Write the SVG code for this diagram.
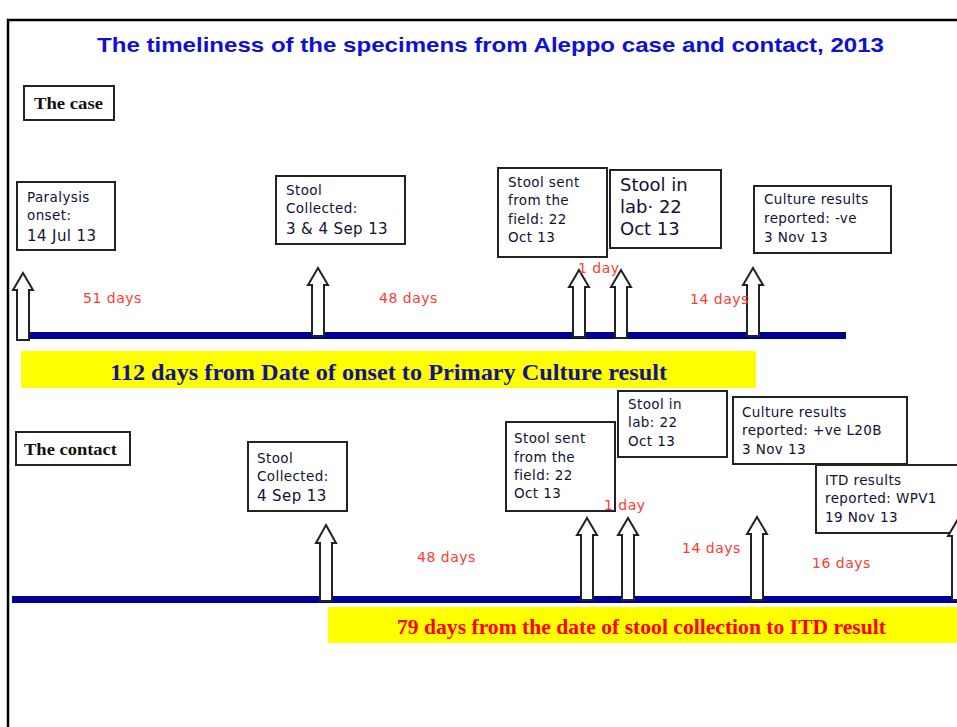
<svg xmlns="http://www.w3.org/2000/svg" width="957" height="727" viewBox="0 0 957 727">
<style>
.frame{fill:none;stroke:#000;stroke-width:2.5}
.box{fill:#fff;stroke:#222;stroke-width:2}
.bt{font-family:"DejaVu Sans","Liberation Sans",sans-serif;font-size:13.5px;letter-spacing:0.4px;fill:#111133}
.bt15{font-family:"DejaVu Sans","Liberation Sans",sans-serif;font-size:15px;letter-spacing:0.4px;fill:#111133}
.bt18{font-family:"DejaVu Sans","Liberation Sans",sans-serif;font-size:18px;fill:#111133}
.hd{font-family:"Liberation Serif",serif;font-weight:bold;font-size:17px;fill:#111}
.days{font-family:"DejaVu Sans","Liberation Sans",sans-serif;font-size:14px;letter-spacing:0.5px;fill:#ff3b2f}
.arrow{fill:#fff;stroke:#222;stroke-width:2;stroke-linejoin:miter}
.bar{fill:#000099}
.band{fill:#ffff00}
.title{font-family:"Liberation Sans",Arial,sans-serif;font-weight:bold;font-size:21px;fill:#1010d0}
.b1{font-family:"Liberation Serif",serif;font-weight:bold;font-size:23px;fill:#14148a}
.b2{font-family:"Liberation Serif",serif;font-weight:bold;font-size:20px;fill:#ff0000}
</style>
<rect width="957" height="727" fill="#fff"/>
<path class="frame" d="M8,727 V20 H957"/>
<text class="title" x="97" y="52" textLength="787" lengthAdjust="spacingAndGlyphs">The timeliness of the specimens from Aleppo  case and contact, 2013</text>

<g id="bars">
<rect class="bar" x="18" y="332" width="828" height="7"/>
<rect class="bar" x="12" y="596" width="945" height="7"/>
</g>

<g id="band-case">
<rect class="band" x="21" y="351" width="735" height="37"/>
<text class="b1" x="110" y="380" textLength="557" lengthAdjust="spacingAndGlyphs">112 days  from Date of onset to Primary  Culture result</text>
</g>
<g id="band-contact">
<rect class="band" x="328" y="607" width="629" height="36"/>
<text class="b2" x="397" y="634" textLength="489" lengthAdjust="spacingAndGlyphs">79 days from the date of stool collection to ITD result</text>
</g>

<g id="label-case">
<rect class="box" x="24" y="86" width="90" height="34"/>
<text class="hd" x="34" y="109" textLength="69" lengthAdjust="spacingAndGlyphs">The case</text>
</g>
<g id="label-contact">
<rect class="box" x="16" y="432" width="114" height="33"/>
<text class="hd" x="24" y="455" textLength="93" lengthAdjust="spacingAndGlyphs">The contact</text>
</g>

<g id="case-onset">
<rect class="box" x="17" y="182" width="98" height="68"/>
<text class="bt" x="27" y="202">Paralysis</text>
<text class="bt" x="27" y="220">onset:</text>
<text class="bt15" x="27" y="241">14 Jul  13</text>
</g>
<g id="case-stool-collected">
<rect class="box" x="276" y="176" width="129" height="68"/>
<text class="bt" x="286" y="195">Stool</text>
<text class="bt" x="286" y="213">Collected:</text>
<text class="bt15" x="286" y="234">3 &amp; 4 Sep 13</text>
</g>
<g id="case-stool-sent">
<rect class="box" x="498" y="168" width="109" height="89"/>
<text class="bt" x="508" y="187">Stool sent</text>
<text class="bt" x="508" y="205">from the</text>
<text class="bt" x="508" y="224">field: 22</text>
<text class="bt" x="508" y="242">Oct 13</text>
</g>
<g id="case-stool-lab">
<rect class="box" x="610" y="170" width="111" height="78"/>
<text class="bt18" x="620" y="191">Stool  in</text>
<text class="bt18" x="620" y="213">lab· 22</text>
<text class="bt18" x="620" y="235">Oct 13</text>
</g>
<g id="case-culture">
<rect class="box" x="754" y="186" width="137" height="67"/>
<text class="bt" x="764" y="204">Culture results</text>
<text class="bt" x="764" y="223">reported: -ve</text>
<text class="bt" x="764" y="242">3 Nov 13</text>
</g>

<g id="contact-stool-collected">
<rect class="box" x="248" y="442" width="99" height="69"/>
<text class="bt" x="257" y="463">Stool</text>
<text class="bt" x="257" y="481">Collected:</text>
<text class="bt15" x="257" y="501">4 Sep 13</text>
</g>
<g id="contact-stool-sent">
<rect class="box" x="506" y="422" width="109" height="89"/>
<text class="bt" x="514" y="443">Stool sent</text>
<text class="bt" x="514" y="462">from the</text>
<text class="bt" x="514" y="480">field: 22</text>
<text class="bt" x="514" y="498">Oct 13</text>
</g>
<g id="contact-stool-lab">
<rect class="box" x="618" y="391" width="109" height="66"/>
<text class="bt" x="628" y="409">Stool in</text>
<text class="bt" x="628" y="427">lab: 22</text>
<text class="bt" x="628" y="446">Oct 13</text>
</g>
<g id="contact-culture">
<rect class="box" x="733" y="397" width="174" height="67"/>
<text class="bt" x="742" y="417">Culture results</text>
<text class="bt" x="742" y="435">reported:  +ve L20B</text>
<text class="bt" x="742" y="454">3 Nov 13</text>
</g>
<g id="contact-itd">
<rect class="box" x="816" y="465" width="150" height="68"/>
<text class="bt" x="825" y="485">ITD results</text>
<text class="bt" x="825" y="503">reported:  WPV1</text>
<text class="bt" x="825" y="522">19 Nov 13</text>
</g>

<g id="connectors">
<path class="arrow" d="M23,273 L33,290 H29 V340 H17 V290 H13 Z"/>
<path class="arrow" d="M318,268 L328,285 H324 V336 H312 V285 H308 Z"/>
<path class="arrow" d="M579,270 L589,287 H585 V337 H573 V287 H569 Z"/>
<path class="arrow" d="M621,270 L631,287 H627 V338 H615 V287 H611 Z"/>
<path class="arrow" d="M753,268 L763,285 H759 V336 H747 V285 H743 Z"/>
<path class="arrow" d="M326,525 L336,543 H332 V601 H320 V543 H316 Z"/>
<path class="arrow" d="M587,518 L597,535 H593 V600 H581 V535 H577 Z"/>
<path class="arrow" d="M628,518 L638,535 H634 V600 H622 V535 H618 Z"/>
<path class="arrow" d="M757,517 L767,534 H763 V600 H751 V534 H747 Z"/>
<path class="arrow" d="M958,519 L968,536 H964 V600 H952 V536 H948 Z"/>
</g>

<g id="durations">
<text class="days" x="83" y="303">51 days</text>
<text class="days" x="379" y="303">48 days</text>
<text class="days" x="578" y="273">1 day</text>
<text class="days" x="690" y="304">14 days</text>
<text class="days" x="417" y="562">48 days</text>
<text class="days" x="604" y="510">1 day</text>
<text class="days" x="682" y="553">14 days</text>
<text class="days" x="812" y="568">16 days</text>
</g>
</svg>
